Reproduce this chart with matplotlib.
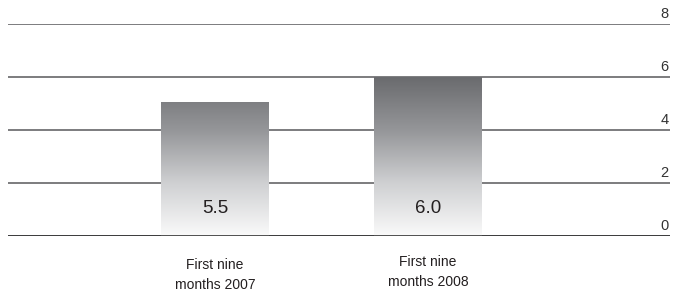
import numpy as np
import matplotlib.pyplot as plt
from matplotlib.patches import Rectangle
from matplotlib.colors import LinearSegmentedColormap
from matplotlib.transforms import blended_transform_factory

# data
categories = ["First nine\nmonths 2007", "First nine\nmonths 2008"]
bar_heights = [5.05, 6.0]          # as drawn in the chart
bar_labels = ["5.5", "6.0"]        # as printed on the bars
y_ticks = [0, 2, 4, 6, 8]

plt.rcParams["font.family"] = ["Liberation Sans", "DejaVu Sans"]

fig = plt.figure(figsize=(6.82, 2.95), dpi=100)
ax = fig.add_axes([8 / 682, 1 - 236 / 295, 662 / 682, 212 / 295])
ax.set_xlim(-0.972, 2.136)
ax.set_ylim(0, 8)
ax.axis("off")

# gridlines and right-side tick labels
for t in y_ticks:
    ax.axhline(t, color="#58595b", lw=1.1, zorder=1)
    ax.annotate(str(t), xy=(1.0, t), xycoords=("axes fraction", "data"),
                xytext=(-1, 2.5), textcoords="offset points",
                ha="right", va="bottom", fontsize=10.5, color="#333333")

# bars with a vertical grey gradient
cmap = LinearSegmentedColormap.from_list("g", ["#fafafa", "#cfd0d2", "#959699", "#6a6b6e"])
grad = np.linspace(0, 1, 256).reshape(-1, 1)
width = 0.507
top = max(bar_heights)
for i, (h, lab) in enumerate(zip(bar_heights, bar_labels)):
    x0 = i - width / 2
    rect = Rectangle((x0, 0), width, h, facecolor="none", edgecolor="none", zorder=2)
    ax.add_patch(rect)
    im = ax.imshow(grad, cmap=cmap, origin="lower", aspect="auto",
                   extent=[x0, x0 + width, 0, top], zorder=2)
    im.set_clip_path(rect)
    ax.text(i, 1.05, lab, ha="center", va="center", fontsize=13.5, color="#231f20", zorder=3)

ax.axhline(0, color="#333333", lw=1.2, zorder=4)

# category labels below the axis
label_y = [275, 272]
trans = blended_transform_factory(ax.transData, fig.transFigure)
for i, (c, py) in enumerate(zip(categories, label_y)):
    ax.text(i, 1 - py / 295, c, transform=trans, ha="center", va="center",
            fontsize=10, color="#231f20", linespacing=1.5)

fig.savefig("out.png", dpi=100)
